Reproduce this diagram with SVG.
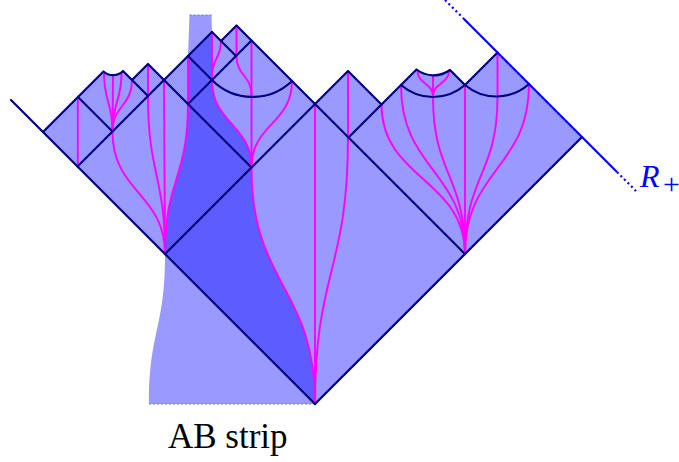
<svg xmlns="http://www.w3.org/2000/svg" width="679" height="462" viewBox="0 0 679 462">
<style>
.fill{fill:#0000ff;fill-opacity:0.4;stroke:none}
.nv{fill:none;stroke:#000080;stroke-width:2.2;stroke-linejoin:round;stroke-linecap:round}
.mg{fill:none;stroke:#ff00ff;stroke-width:1.9}
.bl{fill:none;stroke:#0000ff;stroke-width:2.2}
.dot{stroke-dasharray:2 3}
.sdot{fill:none;stroke:#7070ff;stroke-width:1.2;stroke-dasharray:2 2}
.lbl{font-family:"Liberation Serif","Times New Roman",serif}
</style>
<g id="diagram-fill">
<path class="fill" d="M315,404 L43,132 L103.5,71.5 A14 14 0 0 0 123,71 L132,80 L148,64 L164,80 L212,32 L221,41 L236.5,25.5 L315,104 L348,71 L381.5,104.5 L416.5,69.5 A28 28 0 0 0 450,70 L465,85 L497.5,52.5 L582,137 Z"/>
</g>
<g id="ab-strip">
<path class="fill" d="M189.5,15 L211.5,15 L212,32 L212,80 C212,124 251.5,124 251.5,167.5 C251.5,286 315,286 315,404 L149,404 C149,330 165,330 165,254 C165,179 188,179 188,104 L188,56 Z"/>
<path class="sdot" d="M189.5,15 H211.5 M149,404 H315"/>
</g>
<g id="worldlines">
<path class="mg" d="M77.8,97 V166"/>
<path class="mg" d="M104,73 C104,102 112.5,102 112.5,131.5"/>
<path class="mg" d="M113,75 L112.5,131.5"/>
<path class="mg" d="M121.5,73 C121.5,102 112.5,102 112.5,131.5"/>
<path class="mg" d="M132,80 C132,106 112.5,106 112.5,131.5"/>
<path class="mg" d="M112.5,131.5 C112.5,193 165,193 165,254"/>
<path class="mg" d="M148,64 V96 C148,175 165,175 165,254"/>
<path class="mg" d="M164,80 L165,254"/>
<path class="mg" d="M188,56 V104 C188,179 165,179 165,254"/>
<path class="mg" d="M212,32 V80 C212,124 251.5,124 251.5,167.5 C251.5,286 315,286 315,404"/>
<path class="mg" d="M221,41 C221,58.5 212,58.5 212,76"/>
<path class="mg" d="M236.5,25.5 V56 C236.5,75.5 251.5,75.5 251.5,95"/>
<path class="mg" d="M251.5,40.5 V167.5"/>
<path class="mg" d="M292,81 C292,124 251.5,124 251.5,167.5"/>
<path class="mg" d="M315,104 V404"/>
<path class="mg" d="M348,71 V137.5 C348,271 315,271 315,404"/>
<path class="mg" d="M381.5,104.5 C381.5,179 465,179 465,254"/>
<path class="mg" d="M401,85 C401,170 465,170 465,254"/>
<path class="mg" d="M417.5,71 C417.5,83.5 433,83.5 433,96"/>
<path class="mg" d="M433,75 V97"/>
<path class="mg" d="M449,71 C449,83.5 433,83.5 433,96"/>
<path class="mg" d="M433,97 C433,175 465,175 465,254"/>
<path class="mg" d="M465,85 V254"/>
<path class="mg" d="M497.5,52.5 V97 C497.5,175 465,175 465,254"/>
<path class="mg" d="M529,84 C529,169 465,169 465,254"/>
</g>
<g id="null-lines">
<path class="nv" d="M11,100 L315,404"/>
<path class="nv" d="M43,132 L103.5,71.5 A14 14 0 0 0 123,71 L148,96"/>
<path class="nv" d="M78,97 L112.5,131.5"/>
<path class="nv" d="M77.5,166.5 L212,32"/>
<path class="nv" d="M132,80 L148,64 L251.5,167.5"/>
<path class="nv" d="M188,56 L212,80 A57 57 0 0 0 292,81"/>
<path class="nv" d="M212,32 L236,56"/>
<path class="nv" d="M221,41 L236.5,25.5 L465,254"/>
<path class="nv" d="M188,104 L251.5,40.5"/>
<path class="nv" d="M165,254 L348,71 L381.5,104.5"/>
<path class="nv" d="M348.5,137.5 L416.5,69.5 A28 28 0 0 0 450,70 L465,85 L497.5,52.5"/>
<path class="nv" d="M582,137 L315,404"/>
<path class="nv" d="M401,85 A48.7 48.7 0 0 0 465,85 A48.7 48.7 0 0 0 529,84"/>
</g>
<g id="boundary-R">
<path class="bl" d="M463,18 L617,172"/>
<path class="bl dot" d="M445,0 L463,18 M617,172 L636,191"/>
</g>
<g id="label-ab"><text class="lbl" x="168" y="448" font-size="35" fill="#000000">AB strip</text></g>
<g id="label-R"><text class="lbl" x="640" y="187" font-size="32" font-style="italic" fill="#0000ff">R</text><text class="lbl" x="663" y="194" font-size="30" fill="#0000ff">+</text></g>
</svg>
